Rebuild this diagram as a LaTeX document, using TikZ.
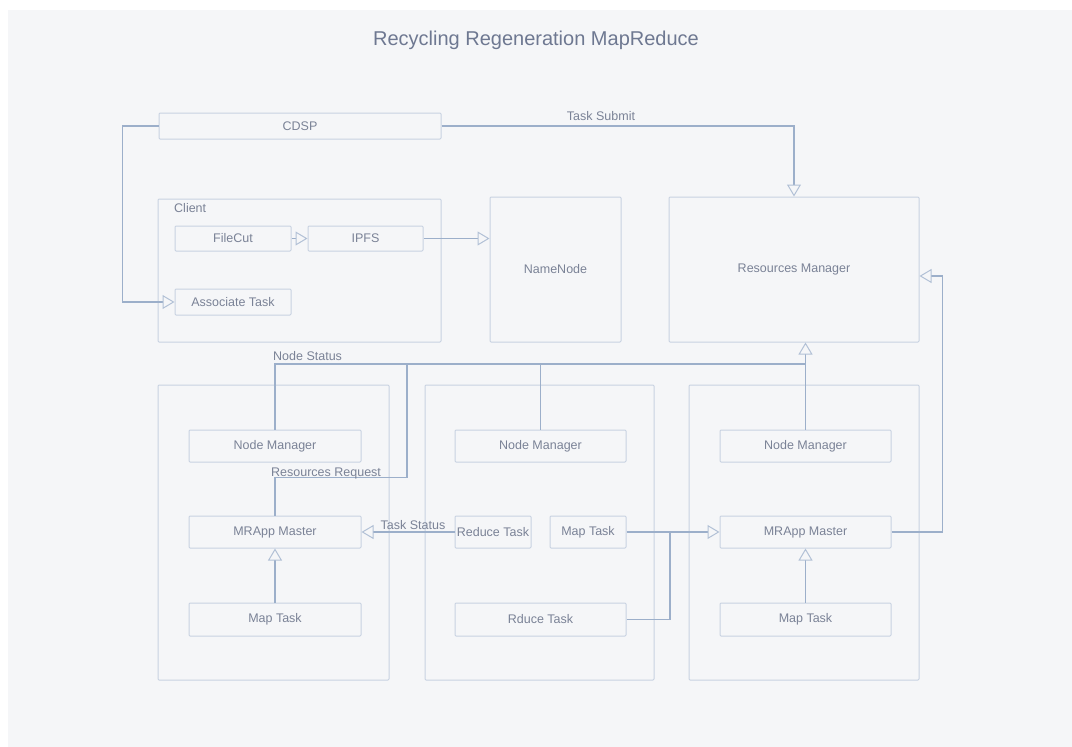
\documentclass[tikz,border=0pt]{standalone}
\usepackage{fontspec}
\setmainfont{Liberation Sans}
\usetikzlibrary{arrows.meta}
\usetikzlibrary{positioning}
\definecolor{bgcol}{HTML}{F5F6F8}
\definecolor{boxcol}{HTML}{C8D2E1}
\definecolor{linecol}{HTML}{9CAFCA}
\definecolor{tipcol}{HTML}{B2C1D6}
\definecolor{txtcol}{HTML}{7A8296}
\definecolor{titlecol}{HTML}{6E7891}
\tikzset{box/.style = {draw = boxcol, line width = 1pt, rounded corners = 1pt,
                       inner sep = 0, text = txtcol,
                       font = \fontsize{12.5}{14}\selectfont}}
\tikzset{lbl/.style = {text = txtcol, inner sep = 1pt,
                       font = \fontsize{12.5}{14}\selectfont}}
\tikzset{link/.style = {draw = linecol, line width = 1.3pt}}
\tikzset{tip/.style = {link, -{Triangle[open, length = 12pt, width = 14pt, line width = 1pt, color = tipcol]}}}

\begin{document}
\begin{tikzpicture}[x = 1pt, y = -1pt]
    \useasboundingbox (0, 0) rectangle (1072, 747);
    \fill [bgcol] (8, 10) rectangle (1072, 747);

    \node [text = titlecol, font = \fontsize{20}{24}\selectfont] (title) at (536, 40)
          {Recycling Regeneration MapReduce};

    % top row
    \node [box, minimum width = 282, minimum height = 26] (cdsp) at (300, 126) {CDSP};
    \node [box, minimum width = 283, minimum height = 143] (client) at (299.5, 270.5) {};
    \node [lbl, anchor = north west] (clientlbl) at (173, 202) {Client};
    \node [box, minimum width = 116, minimum height = 25] (filecut) at (233, 238.5) {FileCut};
    \node [box, minimum width = 115, minimum height = 25] (ipfs) at (365.5, 238.5) {IPFS};
    \node [box, minimum width = 116, minimum height = 26] (assoc) at (233, 302) {Associate Task};
    \node [box, minimum width = 131, minimum height = 145] (namenode) at (555.5, 269.5) {NameNode};
    \node [box, minimum width = 250, minimum height = 145] (rm) at (794, 269.5) {Resources Manager};

    % worker nodes
    \node [box, minimum width = 231, minimum height = 295] (left) at (273.5, 532.5) {};
    \node [box, minimum width = 229, minimum height = 295] (mid) at (539.5, 532.5) {};
    \node [box, minimum width = 230, minimum height = 295] (right) at (804, 532.5) {};

    \node [box, minimum width = 172, minimum height = 32] (nmleft) at (275, 446) {Node Manager};
    \node [box, minimum width = 172, minimum height = 32] (mrleft) at (275, 532) {MRApp Master};
    \node [box, minimum width = 172, minimum height = 33] (mapleft) at (275, 619.5) {Map Task};

    \node [box, minimum width = 171, minimum height = 32] (nmmid) at (540.5, 446) {Node Manager};
    \node [box, minimum width = 76, minimum height = 32] (reducemid) at (493, 532) {Reduce Task};
    \node [box, minimum width = 76, minimum height = 32] (mapmid) at (588, 532) {Map Task};
    \node [box, minimum width = 171, minimum height = 33] (rducemid) at (540.5, 619.5) {Rduce Task};

    \node [box, minimum width = 171, minimum height = 32] (nmright) at (805.5, 446) {Node Manager};
    \node [box, minimum width = 171, minimum height = 32] (mrright) at (805.5, 532) {MRApp Master};
    \node [box, minimum width = 171, minimum height = 33] (mapright) at (805.5, 619.5) {Map Task};

    % connectors
    \draw [tip] (cdsp.east) -| (rm.north);
    \node [lbl, anchor = south] (submit) at (601, 122) {Task Submit};
    \draw [tip] (cdsp.west) -- ++(-36, 0) |- (assoc.west);
    \draw [tip] (filecut) -- (ipfs);
    \draw [tip] (ipfs) -- (ipfs -| namenode.west);

    \coordinate (bus) at (806, 364);
    \draw [tip] (nmright.north) -- (nmright.north |- rm.south);
    \draw [link] (nmleft.north) |- (bus);
    \draw [link] (nmmid.north) -- (nmmid.north |- bus);
    \node [lbl, anchor = south west] (status) at (272, 362) {Node Status};

    \draw [link] (mrleft.north) -- ++(0, -38) -| (407, 364);
    \node [lbl, anchor = south west] (request) at (270, 480) {Resources Request};

    \draw [tip] (reducemid.west) -- (mrleft.east);
    \node [lbl, anchor = south] (taskstatus) at (413, 531) {Task Status};

    \draw [tip] (mapmid.east) -- (mrright.west);
    \draw [link] (rducemid.east) -| (670, 532);
    \draw [tip] (mapleft.north) -- (mrleft.south);
    \draw [tip] (mapright.north) -- (mrright.south);
    \draw [tip] (mrright.east) -- ++(51, 0) |- ([yshift = -6.5pt] rm.east);
\end{tikzpicture}
\end{document}
